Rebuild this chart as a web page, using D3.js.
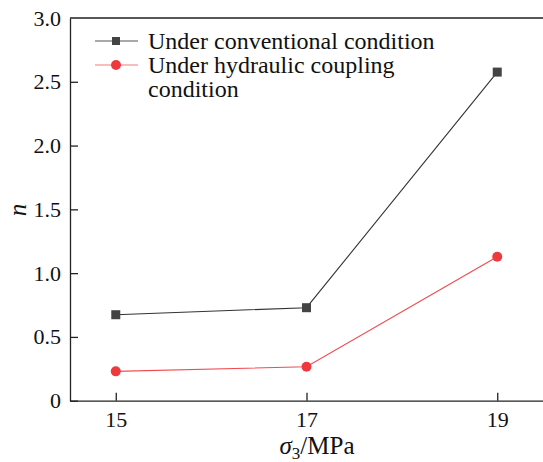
<!DOCTYPE html>
<html>
<head>
<meta charset="utf-8">
<script src="https://cdn.jsdelivr.net/npm/d3@7"></script>
<style>
  body { margin: 0; background: #fff; }
  svg { display: block; }
  svg text { font-family: "Liberation Serif", "Times New Roman", Times, "DejaVu Serif", serif; }
</style>
</head>
<body>
<svg id="chart" width="543" height="462"></svg>
<script>
// 围压 (MPa)
const sigma3 = [15, 17, 19];
// 常规条件下的 n 值
const nConventional = [0.674, 0.729, 2.576];
// 水力耦合条件下的 n 值
const nHydraulic = [0.230, 0.266, 1.128];
// 坐标轴刻度
const xTicks = [15, 17, 19];
const yTicks = [0, 0.5, 1.0, 1.5, 2.0, 2.5, 3.0];
const seriesNames = ["Under conventional condition", "Under hydraulic coupling\ncondition"];

const plotLeft = 70, plotRight = 564, plotTop = 18, plotBottom = 400.7;

const svg = d3.select("#chart");

const x = d3.scaleLinear().domain([14.52, 19.7]).range([plotLeft, plotRight]);
const y = d3.scaleLinear().domain([0, 3]).range([plotBottom, plotTop]);

// 边框（上、右）
svg.append("path")
    .attr("d", `M${plotLeft},${plotTop}H${plotRight}V${plotBottom}`)
    .attr("fill", "none")
    .attr("stroke", "#222")
    .attr("stroke-width", 1.3);

// x 轴
const gx = svg.append("g")
    .attr("transform", `translate(0,${plotBottom})`)
    .call(d3.axisBottom(x).tickValues(xTicks).tickSize(-8).tickPadding(11).tickSizeOuter(0)
        .tickFormat(d3.format("d")));

// y 轴
const gy = svg.append("g")
    .attr("transform", `translate(${plotLeft},0)`)
    .call(d3.axisLeft(y).tickValues(yTicks).tickSize(-8).tickPadding(9).tickSizeOuter(0)
        .tickFormat(d => d === 0 ? "0" : d.toFixed(1)));

[gx, gy].forEach(g => {
    g.attr("font-family", null).attr("font-size", null);
    g.select(".domain").attr("stroke", "#222").attr("stroke-width", 1.3);
    g.selectAll(".tick line").attr("stroke", "#222").attr("stroke-width", 1.3);
    g.selectAll(".tick text")
        .attr("fill", "#111")
        .style("font-size", "22px");
});
gy.selectAll(".tick").filter(d => d === 3).select("line").remove();

// 轴标题
const xt = svg.append("text")
    .attr("x", 317).attr("y", 454)
    .attr("text-anchor", "middle")
    .attr("fill", "#111")
    .style("font-size", "25px");
xt.append("tspan").style("font-style", "italic").text("σ");
xt.append("tspan").attr("dy", 5).style("font-size", "17px").text("3");
xt.append("tspan").attr("dy", -5).text("/MPa");

svg.append("text")
    .attr("transform", "translate(26,210) rotate(-90)")
    .attr("text-anchor", "middle")
    .attr("fill", "#111")
    .style("font-size", "25px")
    .style("font-style", "italic")
    .text("n");

// 折线
const line = d3.line().x((d, i) => x(sigma3[i])).y(d => y(d));

svg.append("path")
    .datum(nConventional)
    .attr("d", line)
    .attr("fill", "none")
    .attr("stroke", "#333")
    .attr("stroke-width", 1.1);

svg.append("path")
    .datum(nHydraulic)
    .attr("d", line)
    .attr("fill", "none")
    .attr("stroke", "#f24a4f")
    .attr("stroke-width", 1.1);

// 标记
svg.append("g").selectAll("rect")
    .data(nConventional)
    .join("rect")
    .attr("x", (d, i) => x(sigma3[i]) - 4.5)
    .attr("y", d => y(d) - 4.5)
    .attr("width", 9).attr("height", 9)
    .attr("fill", "#444");

svg.append("g").selectAll("circle")
    .data(nHydraulic)
    .join("circle")
    .attr("cx", (d, i) => x(sigma3[i]))
    .attr("cy", d => y(d))
    .attr("r", 5)
    .attr("fill", "#ee3a3f");

// 图例
const lg = svg.append("g");
lg.append("line").attr("x1", 95).attr("x2", 138).attr("y1", 41).attr("y2", 41)
    .attr("stroke", "#555").attr("stroke-width", 1.2);
lg.append("rect").attr("x", 112).attr("y", 37).attr("width", 8).attr("height", 8).attr("fill", "#444");
lg.append("line").attr("x1", 95).attr("x2", 138).attr("y1", 65).attr("y2", 65)
    .attr("stroke", "#f27a7d").attr("stroke-width", 1.2);
lg.append("circle").attr("cx", 116).attr("cy", 65).attr("r", 5).attr("fill", "#ee3a3f");

seriesNames.forEach((name, i) => {
    const t = lg.append("text")
        .attr("x", 148).attr("y", 49.3 + i * 24)
        .attr("fill", "#111")
        .style("font-size", "24px");
    name.split("\n").forEach((s, j) => {
        t.append("tspan").attr("x", 148).attr("dy", j === 0 ? 0 : 23.5).text(s);
    });
});
</script>
</body>
</html>
